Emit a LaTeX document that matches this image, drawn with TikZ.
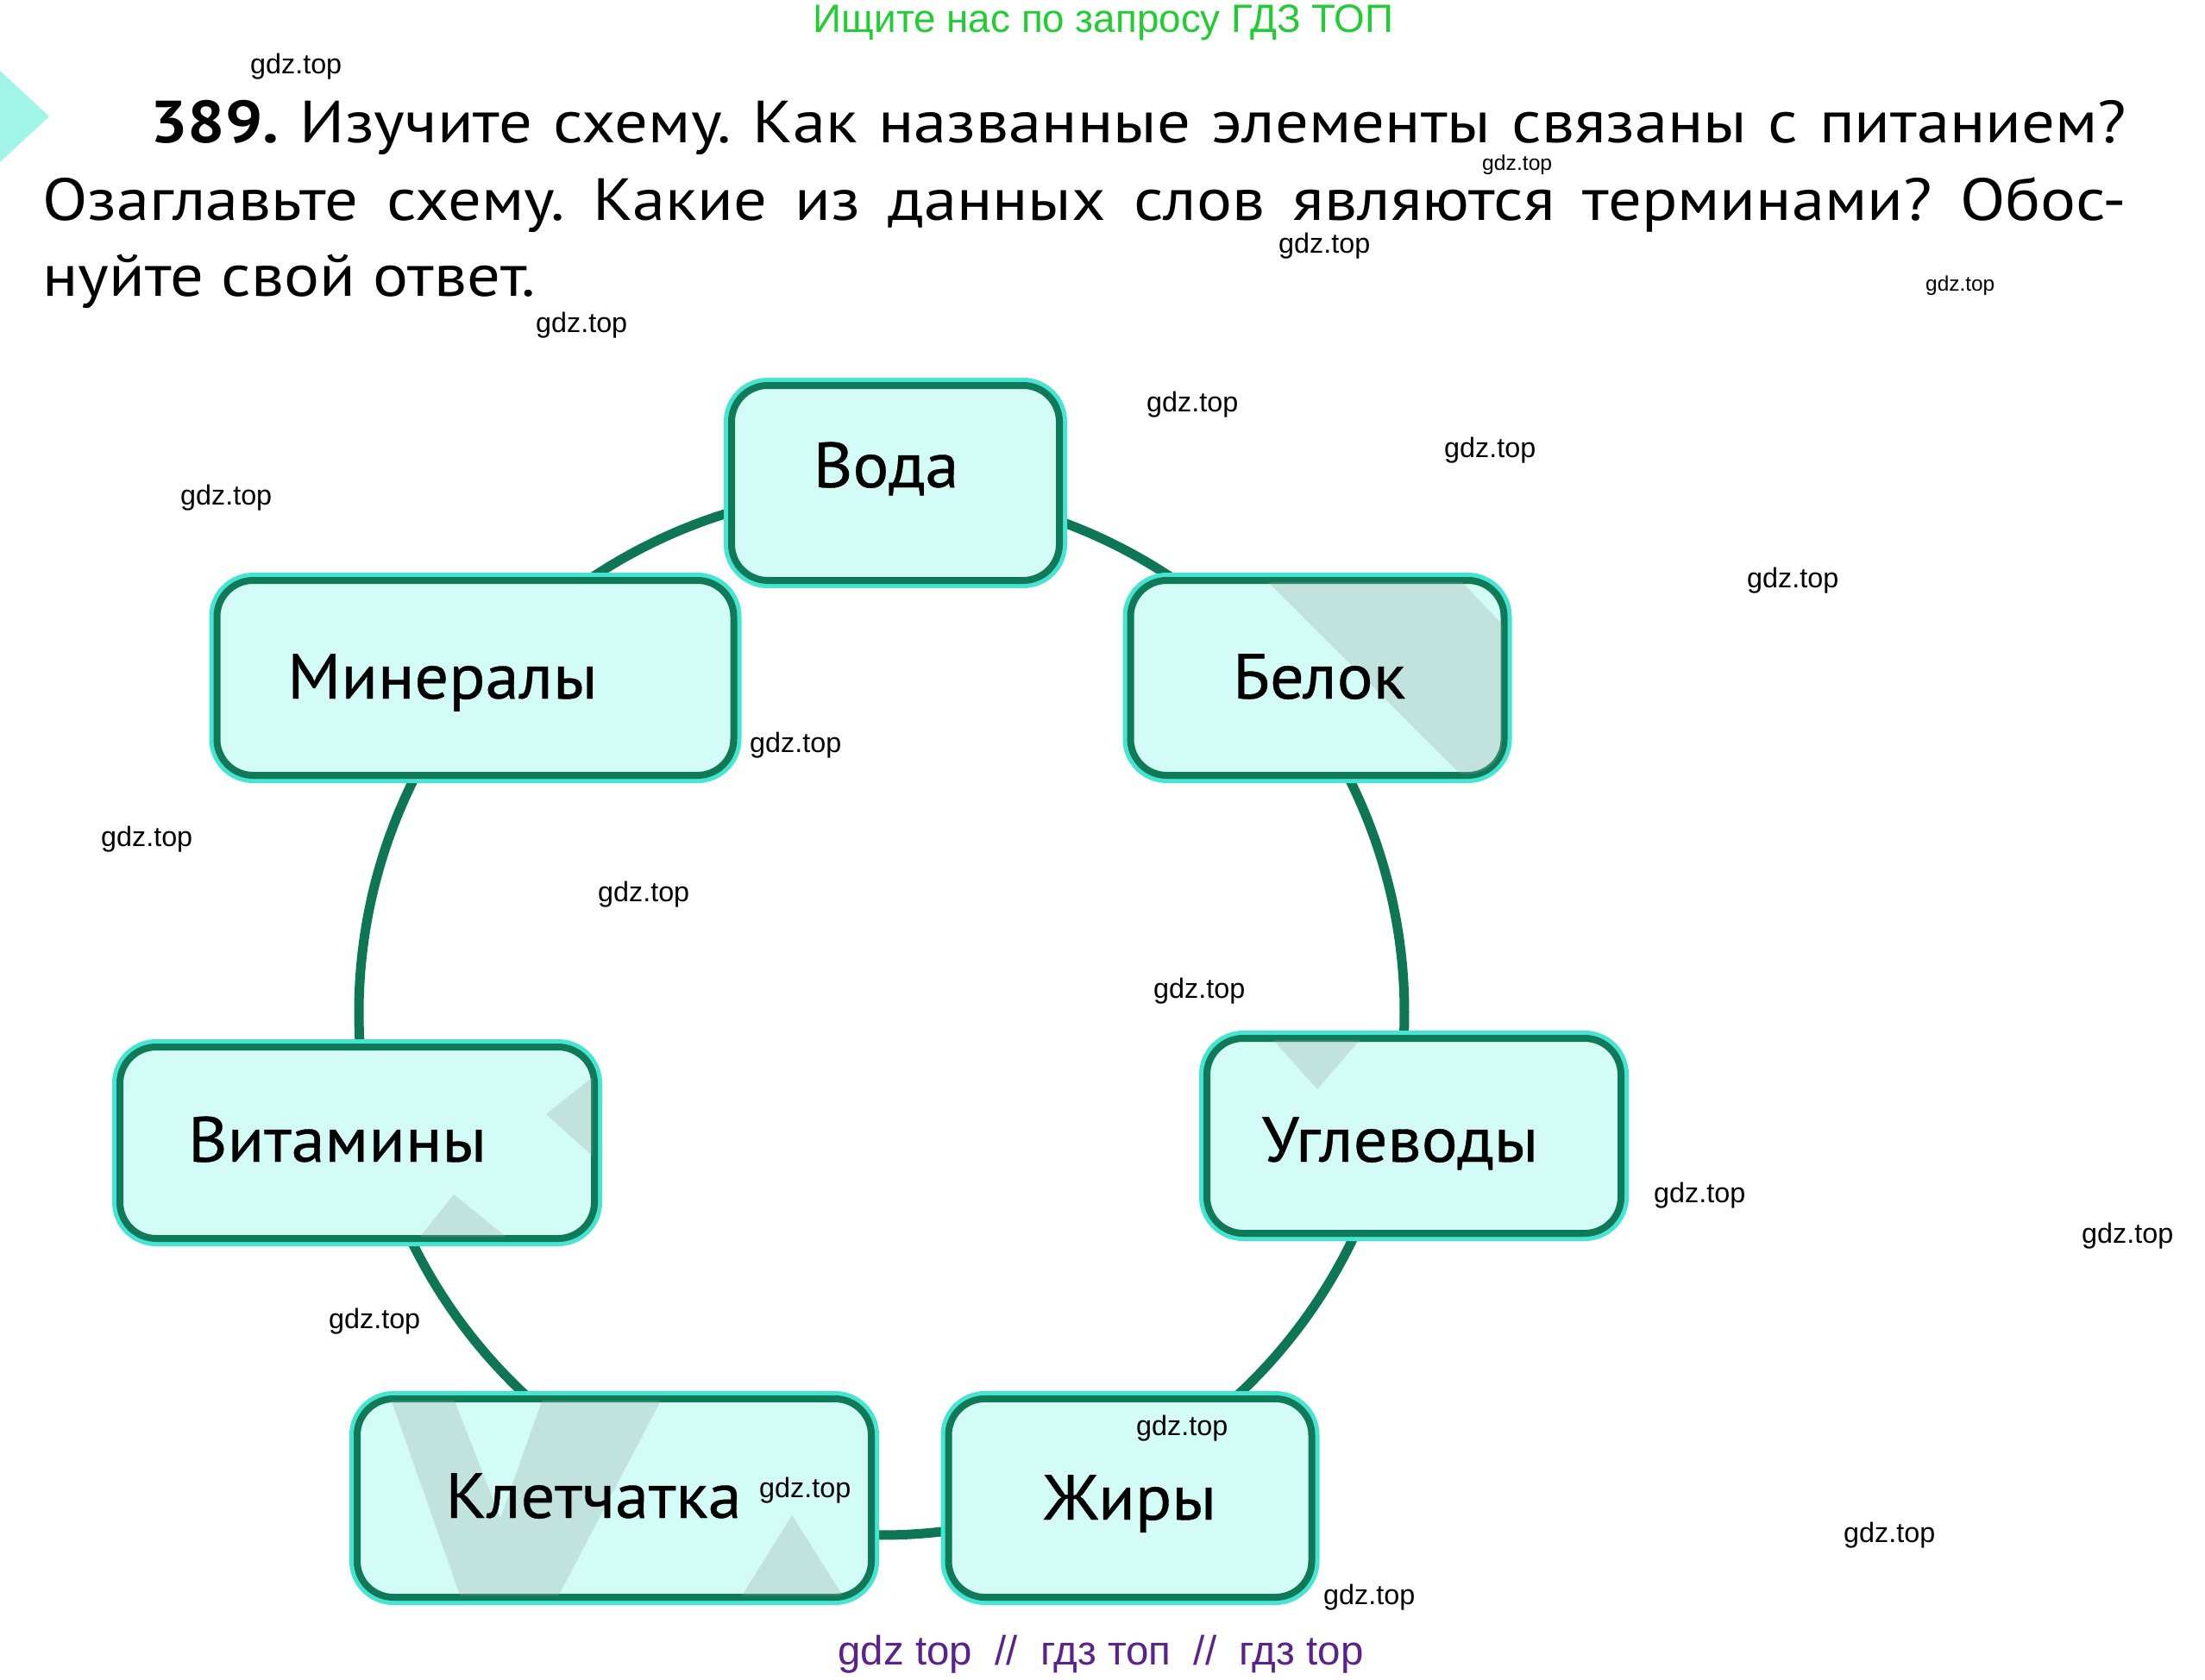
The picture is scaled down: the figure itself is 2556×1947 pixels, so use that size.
\documentclass[tikz,border=0pt]{standalone}
\usepackage{fontspec}
\setmainfont{PT Sans}
\newfontfamily\ttlfont[FakeStretch=1.11]{PT Sans}
\newfontfamily\lblfont[FakeStretch=1.06, FakeBold=0.5]{PT Sans}
\newfontfamily\wmfont{Liberation Sans}
\usetikzlibrary{calc,backgrounds}
\definecolor{boxfill}{RGB}{212,252,246}
\definecolor{boxline}{RGB}{16,122,88}
\definecolor{glowc}{RGB}{70,228,210}
\definecolor{ringcol}{RGB}{14,118,84}
\definecolor{topgreen}{RGB}{34,204,51}
\definecolor{botpurple}{RGB}{90,35,140}
\definecolor{arrowc}{RGB}{160,245,232}
\definecolor{shadec}{RGB}{150,160,160}
\frenchspacing
\begin{document}
\begin{tikzpicture}[x=1pt,y=-1pt,
  box/.style={draw=boxline, line width=8pt, fill=boxfill, rounded corners=42pt,
    minimum height=226pt, inner sep=0pt,
    preaction={draw=glowc, line width=18pt}},
  lbl/.style={anchor=base, inner sep=0pt, font=\lblfont\fontsize{74}{80}\selectfont},
  conn/.style={draw=ringcol, line width=11pt},
  wm/.style={anchor=west, inner sep=0pt, font=\wmfont, text=black},
  shade/.style={fill=shadec, opacity=0.28},
  ttl/.style={anchor=base west, inner sep=0pt, font=\ttlfont\fontsize{69}{80}\selectfont}
]
\useasboundingbox (0,0) rectangle (2556,1947);

% left marker
\fill[arrowc] (0,82) -- (57,135) -- (0,188) -- cycle;

% header
\node[anchor=base, inner sep=0pt, text=topgreen, font=\wmfont] (hdr) at (1279,37)
  {\resizebox{672pt}{!}{Ищите нас по запросу ГДЗ ТОП}};

% task text
\node[ttl] (t1) at (174,165) {\makebox[2291pt][s]{\textbf{389.} Изучите схему. Как названные элементы связаны с питанием?}};
\node[ttl] (t2) at (49,255) {\makebox[2416pt][s]{Озаглавьте схему. Какие из данных слов являются терминами? Обос-}};
\node[ttl] (t3) at (49,343) {нуйте свой ответ.};

% boxes
\node[box, minimum width=380pt] (voda) at (1038,560) {};
\node[box, minimum width=433pt] (belok) at (1527,786) {};
\node[box, minimum width=599pt] (miner) at (551,786) {};
\node[box, minimum width=550pt, minimum height=222pt] (vitam) at (414,1325) {};
\node[box, minimum width=480pt] (uglev) at (1639,1317) {};
\node[box, minimum width=596pt, minimum height=230pt] (kletch) at (712,1737) {};
\node[box, minimum width=421pt, minimum height=230pt] (zhiry) at (1310,1737) {};

% ring connectors
\coordinate (ring) at (1022,1174);
\begin{scope}[on background layer]
\foreach \a/\b in {voda/belok, belok/uglev, uglev/zhiry, zhiry/kletch, kletch/vitam, vitam/miner, miner/voda}
  \draw[conn] let \p1=($(\a)-(ring)$), \p2=($(\b)-(ring)$),
      \n1={atan2(\y1,\x1)}, \n2={atan2(\y2,\x2)}, \n3={\n1+mod(\n2-\n1+540,360)-180} in
      ($(ring)+(\n1:606pt)$) arc[start angle=\n1, end angle=\n3, radius=606pt];
\end{scope}

% faint marks inside boxes
\begin{scope}
  \clip[rounded corners=38pt] ($(belok.south west)+(6pt,6pt)$) rectangle ($(belok.north east)+(-6pt,-6pt)$);
  \fill[shade] (1465,670) -- (1690,670) -- (1752,735) -- (1752,905) -- (1700,905) -- cycle;
\end{scope}
\begin{scope}
  \clip[rounded corners=38pt] ($(kletch.south west)+(6pt,6pt)$) rectangle ($(kletch.north east)+(-6pt,-6pt)$);
  \fill[shade] (453,1622) -- (526,1622) -- (580,1760) -- (629,1622) -- (767,1622) -- (645,1855) -- (535,1855) -- cycle;
  \fill[shade] (918,1757) -- (857,1855) -- (980,1855) -- cycle;
\end{scope}
\begin{scope}
  \clip[rounded corners=38pt] ($(vitam.south west)+(6pt,6pt)$) rectangle ($(vitam.north east)+(-6pt,-6pt)$);
  \fill[shade] (633,1292) -- (692,1245) -- (692,1345) -- cycle;
  \fill[shade] (526,1385) -- (478,1445) -- (600,1445) -- cycle;
\end{scope}
\begin{scope}
  \clip[rounded corners=38pt] ($(uglev.south west)+(6pt,6pt)$) rectangle ($(uglev.north east)+(-6pt,-6pt)$);
  \fill[shade] (1475,1205) -- (1577,1205) -- (1527,1263) -- cycle;
\end{scope}

% box labels
\node[lbl] (voda-t) at (1027,565) {Вода};
\node[lbl] (belok-t) at (1529,810) {Белок};
\node[lbl] (miner-t) at (513,810) {Минералы};
\node[lbl] (vitam-t) at (391,1347) {Витамины};
\node[lbl] (uglev-t) at (1623,1347) {Углеводы};
\node[lbl] (kletch-t) at (688,1760) {Клетчатка};
\node[lbl] (zhiry-t) at (1310,1762) {Жиры};

% watermarks
\foreach \x/\y/\w [count=\i] in {290/77/106, 1718/191/81, 1482/285/106, 2232/331/80,
   621/377/106, 1329/469/106, 1674/522/106, 209/577/106, 2025/673/106, 869/864/106,
   117/973/106, 693/1037/106, 1337/1149/106, 1917/1386/106, 2413/1433/106,
   381/1532/106, 1317/1656/106, 880/1728/106, 2137/1780/106, 1534/1852/106}
  \node[wm] (wm\i) at (\x,\y) {\resizebox{\w pt}{!}{gdz.top}};

% footer
\node[anchor=base, inner sep=0pt, text=botpurple, font=\wmfont] (ftr) at (1276,1930)
  {\resizebox{609pt}{!}{gdz top\ \ //\ \ гдз топ\ \ //\ \ гдз top}};
\end{tikzpicture}
\end{document}
